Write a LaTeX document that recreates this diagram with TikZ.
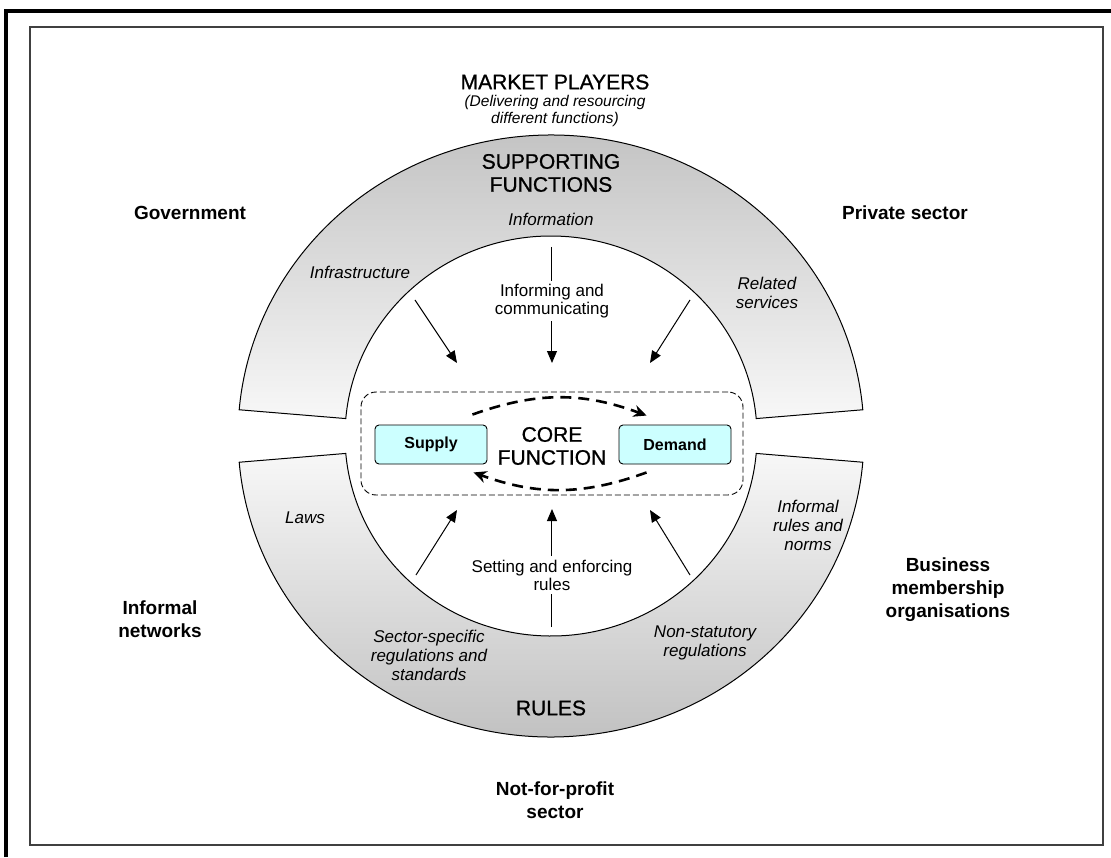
\documentclass[tikz,border=0pt]{standalone}
\usepackage{fontspec}
\setmainfont{Liberation Sans}
\newfontfamily\headfont{Liberation Sans}[FakeBold=0.9]
\usetikzlibrary{arrows.meta,positioning}
\definecolor{boxcyan}{RGB}{204,255,255}
\tikzset{
  heading/.style={font=\fontsize{21}{23}\selectfont\headfont, align=center},
  player/.style={font=\fontsize{19}{23}\selectfont\bfseries, align=center},
  fnlabel/.style={font=\fontsize{17}{19}\selectfont\itshape, align=center},
  process/.style={font=\fontsize{17}{18}\selectfont, align=center},
  actor/.style={draw, fill=boxcyan, rounded corners=4pt, line width=0.9pt,
    minimum width=112pt, minimum height=39pt, font=\fontsize{16}{18}\selectfont\bfseries},
  flow/.style={-{Triangle[length=12pt,width=10pt]}, line width=1pt},
  exchange/.style={-{Stealth[length=13pt,width=12pt]}, line width=2.6pt, dash pattern=on 11pt off 7pt},
  ring/.style={draw=black, line width=1pt}
}
\begin{document}
\begin{tikzpicture}[x=1pt,y=1pt]
  \useasboundingbox (-551,-421) rectangle (560,436);
  \fill[white] (-551,-421) rectangle (560,436);
  \draw[line width=4pt] (-545,-421) -- (-545,425) -- (560,425);
  \draw[line width=1.3pt, black!75] (-521,-409) rectangle (552,409);

  \shadedraw[ring, top color=black!24, bottom color=black!3]
    (5:313pt and 301pt) arc[start angle=5, end angle=175, x radius=313pt, y radius=301pt]
    -- (175:206pt and 200pt) arc[start angle=175, end angle=5, x radius=206pt, y radius=200pt] -- cycle;
  \shadedraw[ring, top color=black!3, bottom color=black!25]
    (185:313pt and 301pt) arc[start angle=185, end angle=355, x radius=313pt, y radius=301pt]
    -- (355:206pt and 200pt) arc[start angle=355, end angle=185, x radius=206pt, y radius=200pt] -- cycle;

  \node[heading] (players) at (4,354) {MARKET PLAYERS};
  \node[fnlabel, font=\fontsize{15.5}{17}\selectfont\itshape] (delivering) at (4,325)
    {(Delivering and resourcing\\different functions)};
  \node[player] (gov) at (-361,223) {Government};
  \node[player] (private) at (354,223) {Private sector};
  \node[player] (networks) at (-391,-183) {Informal\\networks};
  \node[player] (bmo) at (397,-154) {Business\\membership\\organisations};
  \node[player] (nfp) at (4,-364) {Not-for-profit\\sector};

  \node[heading] (support) at (0,263) {SUPPORTING\\FUNCTIONS};
  \node[fnlabel] (info) at (0,217) {Information};
  \node[fnlabel] (infra) at (-191,164) {Infrastructure};
  \node[fnlabel] (related) at (216,143) {Related\\services};
  \node[process] (inform) at (1,135) {Informing and\\communicating};

  \node[fnlabel] (laws) at (-246,-82) {Laws};
  \node[fnlabel] (informal) at (257,-89) {Informal\\rules and\\norms};
  \node[process] (setting) at (1,-139) {Setting and enforcing\\rules};
  \node[fnlabel] (sector) at (-122,-219) {Sector-specific\\regulations and\\standards};
  \node[fnlabel] (nonstat) at (154,-207) {Non-statutory\\regulations};
  \node[heading] (rules) at (0,-272) {RULES};

  \node[draw, line width=0.9pt, dash pattern=on 6pt off 3pt, rounded corners=15pt,
    minimum width=382pt, minimum height=103pt] (coreframe) at (1,-7.5) {};
  \node[actor] (supply) at (-120,-8.5) {Supply};
  \node[actor] (demand) at (124,-8.5) {Demand};
  \node[heading] (core) at (1,-10) {CORE\\FUNCTION};

  \draw[exchange] ([shift={(-15,10)}]supply.north east) to[bend left=20] ([shift={(28,9)}]demand.north west);
  \draw[exchange] ([shift={(28,-8)}]demand.south west) to[bend left=20] ([shift={(-14,-8)}]supply.south east);

  \coordinate (infotop) at (1,189);
  \coordinate (infoin) at (1,73);
  \coordinate (infraout) at (-136,136);
  \coordinate (infrain) at (-94,73);
  \coordinate (relout) at (139,136);
  \coordinate (relin) at (99,73);
  \coordinate (rulesbot) at (1,-191);
  \coordinate (rulesin) at (1,-73);
  \coordinate (sectout) at (-135,-139);
  \coordinate (sectin) at (-94,-74);
  \coordinate (normout) at (139,-139);
  \coordinate (normin) at (99,-74);

  \draw[line width=1pt] (infotop) -- (inform.north);
  \draw[flow] (inform.south) -- (infoin);
  \draw[flow] (infraout) -- (infrain);
  \draw[flow] (relout) -- (relin);
  \draw[line width=1pt] (rulesbot) -- (setting.south);
  \draw[flow] (setting.north) -- (rulesin);
  \draw[flow] (sectout) -- (sectin);
  \draw[flow] (normout) -- (normin);
\end{tikzpicture}
\end{document}
